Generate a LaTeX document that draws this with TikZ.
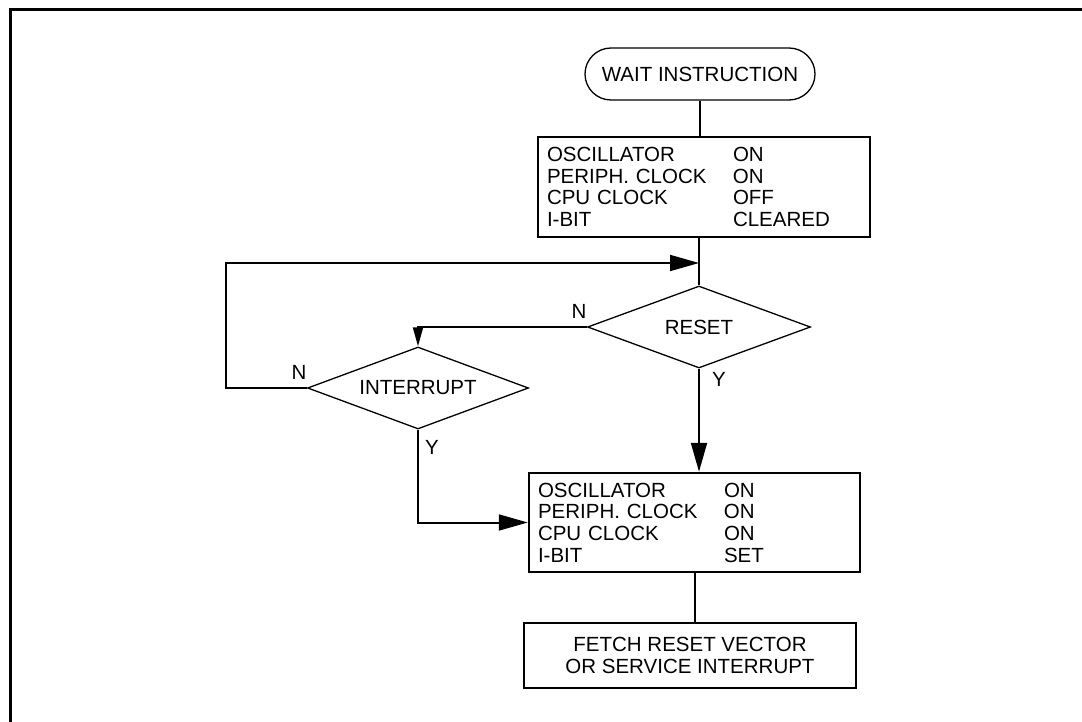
\documentclass[tikz,border=0pt]{standalone}
\usepackage{fontspec}
\setmainfont{Liberation Sans}
\usetikzlibrary{arrows.meta,shapes.geometric,calc}
\newcommand\flrow[2]{\makebox[186pt][l]{#1}#2}
\begin{document}
\begin{tikzpicture}[x=1pt,y=-1pt,
  every node/.style={font=\fontsize{20.5}{21.7}\selectfont},
  infobox/.style={draw,line width=2.5pt,rectangle,inner xsep=9pt,inner ysep=0pt,align=left},
  startbox/.style={draw,line width=1.3pt,rounded corners=26pt,minimum width=230pt,minimum height=52pt,inner sep=0pt},
  decision/.style={draw,line width=1.3pt,diamond,aspect=2.7,inner sep=0pt},
  conn/.style={line width=2pt},
  bigarrow/.style={-{Triangle[length=29pt,width=16pt]}},
  smallarrow/.style={-{Triangle[length=19pt,width=10pt]}},
  lbl/.style={inner sep=0pt}
]
\useasboundingbox (0,0) rectangle (1082,722);
\clip (0,0) rectangle (1082,722);
% frame
\draw[line width=3pt] (10,740) -- (10,10) -- (1100,10);

% nodes
\node[startbox] (wait) at (700,74) {WAIT INSTRUCTION};
\node[infobox, text width=314pt, minimum height=100pt] (box1) at (704,187)
  {\flrow{OSCILLATOR}{ON}\\\flrow{PERIPH. CLOCK}{ON}\\\flrow{CPU CLOCK}{OFF}\\\flrow{I-BIT}{CLEARED}};
\node[decision, minimum width=223pt, minimum height=82pt] (reset) at (699,327) {RESET};
\node[decision, minimum width=221pt, minimum height=82pt] (int) at (418,388) {INTERRUPT};
\node[infobox, text width=313pt, minimum height=99pt] (box2) at (694.5,522.5)
  {\flrow{OSCILLATOR}{ON}\\\flrow{PERIPH. CLOCK}{ON}\\\flrow{CPU CLOCK}{ON}\\\flrow{I-BIT}{SET}};
\node[infobox, align=center, minimum width=332pt, minimum height=65pt] (fetch) at (690,655.5)
  {FETCH RESET VECTOR\\OR SERVICE INTERRUPT};

% labels
\node[lbl] (nreset) at (579,311) {N};
\node[lbl] (nint) at (299,372) {N};
\node[lbl] (yreset) at (719,379) {Y};
\node[lbl] (yint) at (432,447) {Y};

% connectors
\coordinate (loopTL) at (226,263);
\draw[conn] (wait.south) -- (wait.south |- box1.north);
\draw[conn] (reset.north |- box1.south) -- (reset.north);
\draw[conn,bigarrow] (int.west) -| (loopTL) -- (loopTL -| reset.north);
\draw[conn,smallarrow] (reset.west) -| (int.north);
\draw[conn,bigarrow] (reset.south) -- (reset.south |- box2.north);
\draw[conn,bigarrow] (int.south) |- (box2.west);
\draw[conn] (box2.south) -- (box2.south |- fetch.north);
\end{tikzpicture}
\end{document}
